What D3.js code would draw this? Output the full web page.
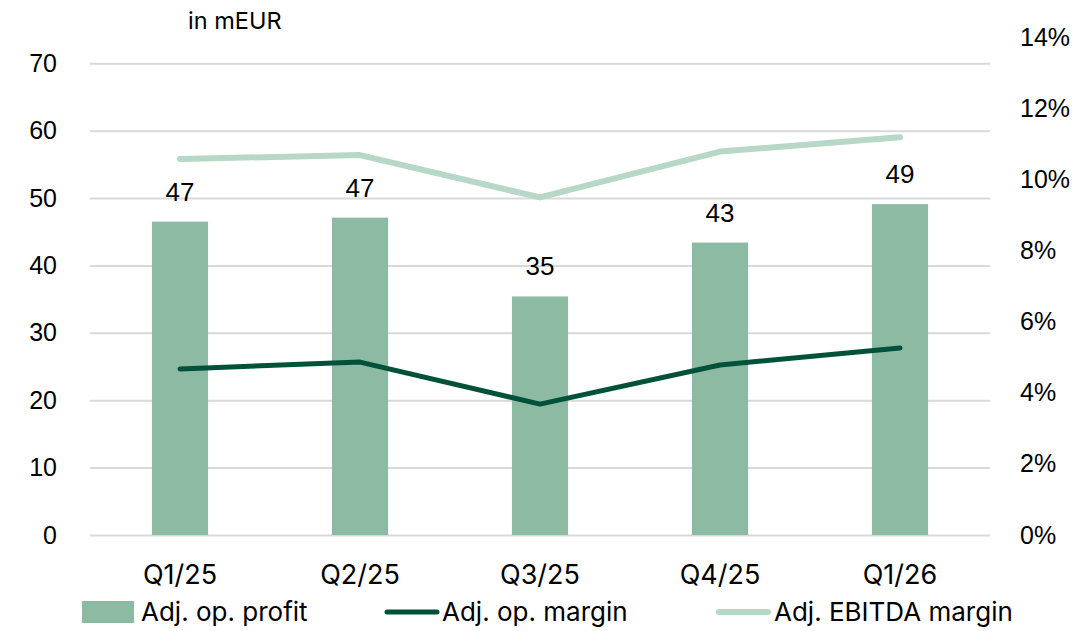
<!DOCTYPE html>
<html>
<head>
<meta charset="utf-8">
<script src="https://cdn.jsdelivr.net/npm/d3@7"></script>
<style>
  body { margin: 0; background: #fff; }
  svg { display: block; }
</style>
</head>
<body>
<svg id="chart"></svg>
<script>
// data
const quarters = ["Q1/25", "Q2/25", "Q3/25", "Q4/25", "Q1/26"];
const opProfit = [46.5, 47.1, 35.4, 43.4, 49.1];
const opProfitLabels = ["47", "47", "35", "43", "49"];
const opMargin = [4.67, 4.86, 3.68, 4.78, 5.26];
const ebitdaMargin = [10.57, 10.68, 9.49, 10.78, 11.18];
const leftTicks = [0, 10, 20, 30, 40, 50, 60, 70];
const rightTicks = [0, 2, 4, 6, 8, 10, 12, 14];

const svgWidth = 1087, svgHeight = 631;
const barColor = "#8dbaa3", opColor = "#00513a", ebitdaColor = "#b7d7c7";
const numFont = "'Liberation Sans', Arial, sans-serif";
const textFont = "Inter, 'Open Sans', sans-serif";

const svg = d3.select("#chart")
    .attr("width", svgWidth)
    .attr("height", svgHeight);

// scales
const x = d3.scaleBand()
    .domain(quarters)
    .range([90, 990])
    .paddingInner(0.688)
    .paddingOuter(0.344);

const y = d3.scaleLinear()
    .domain([0, 70])
    .range([535, 63.3]);

const y2 = d3.scaleLinear()
    .domain([0, 14])
    .range([535, 37]);

const cx = d => x(d) + x.bandwidth() / 2;

// gridlines + left axis
const leftAxis = svg.append("g")
    .attr("transform", "translate(90,0)")
    .call(d3.axisLeft(y).tickValues(leftTicks).tickSize(-900).tickPadding(33));
leftAxis.select(".domain").remove();
leftAxis.selectAll(".tick line").attr("stroke", "#d9d9d9").attr("stroke-width", 2);
leftAxis.selectAll(".tick text")
    .attr("fill", "#000")
    .style("font-family", numFont)
    .style("font-size", "25px");

// right axis, labels only
const rightAxis = svg.append("g")
    .attr("transform", "translate(990,0)")
    .call(d3.axisRight(y2).tickValues(rightTicks).tickSize(0).tickPadding(30)
        .tickFormat(d => d + "%"));
rightAxis.select(".domain").remove();
rightAxis.selectAll(".tick text")
    .attr("fill", "#000")
    .style("font-family", numFont)
    .style("font-size", "25px");

// category axis
const bottomAxis = svg.append("g")
    .attr("transform", "translate(0,535)")
    .call(d3.axisBottom(x).tickSize(0).tickPadding(30));
bottomAxis.select(".domain").remove();
bottomAxis.selectAll(".tick text")
    .attr("fill", "#000")
    .style("font-family", textFont)
    .style("font-size", "27px");

// bars
svg.append("g").selectAll("rect")
    .data(quarters)
    .join("rect")
    .attr("x", d => x(d))
    .attr("width", x.bandwidth())
    .attr("y", (d, i) => y(opProfit[i]))
    .attr("height", (d, i) => y(0) - y(opProfit[i]))
    .attr("fill", barColor);

// bar labels
svg.append("g").selectAll("text")
    .data(quarters)
    .join("text")
    .attr("x", d => cx(d))
    .attr("y", (d, i) => y(opProfit[i]) - 21)
    .attr("text-anchor", "middle")
    .style("font-family", numFont)
    .style("font-size", "26px")
    .text((d, i) => opProfitLabels[i]);

// lines on the right axis
const line = d3.line()
    .x((d, i) => cx(quarters[i]))
    .y(d => y2(d));

svg.append("path")
    .datum(ebitdaMargin)
    .attr("fill", "none")
    .attr("stroke", ebitdaColor)
    .attr("stroke-width", 6)
    .attr("stroke-linejoin", "round")
    .attr("stroke-linecap", "round")
    .attr("d", line);

svg.append("path")
    .datum(opMargin)
    .attr("fill", "none")
    .attr("stroke", opColor)
    .attr("stroke-width", 5)
    .attr("stroke-linejoin", "round")
    .attr("stroke-linecap", "round")
    .attr("d", line);

// unit label
svg.append("text")
    .attr("x", 188)
    .attr("y", 29)
    .style("font-family", textFont)
    .style("font-size", "23.5px")
    .text("in mEUR");

// legend
const legend = svg.append("g").style("font-family", textFont).style("font-size", "26px");
legend.append("rect").attr("x", 82).attr("y", 601).attr("width", 52).attr("height", 22).attr("fill", barColor);
legend.append("text").attr("x", 141).attr("y", 621).text("Adj. op. profit");
legend.append("line").attr("x1", 387).attr("x2", 437).attr("y1", 612).attr("y2", 612)
    .attr("stroke", opColor).attr("stroke-width", 5).attr("stroke-linecap", "round");
legend.append("text").attr("x", 442).attr("y", 621).text("Adj. op. margin");
legend.append("line").attr("x1", 719).attr("x2", 768).attr("y1", 612).attr("y2", 612)
    .attr("stroke", ebitdaColor).attr("stroke-width", 6).attr("stroke-linecap", "round");
legend.append("text").attr("x", 774).attr("y", 621).text("Adj. EBITDA margin");
</script>
</body>
</html>
